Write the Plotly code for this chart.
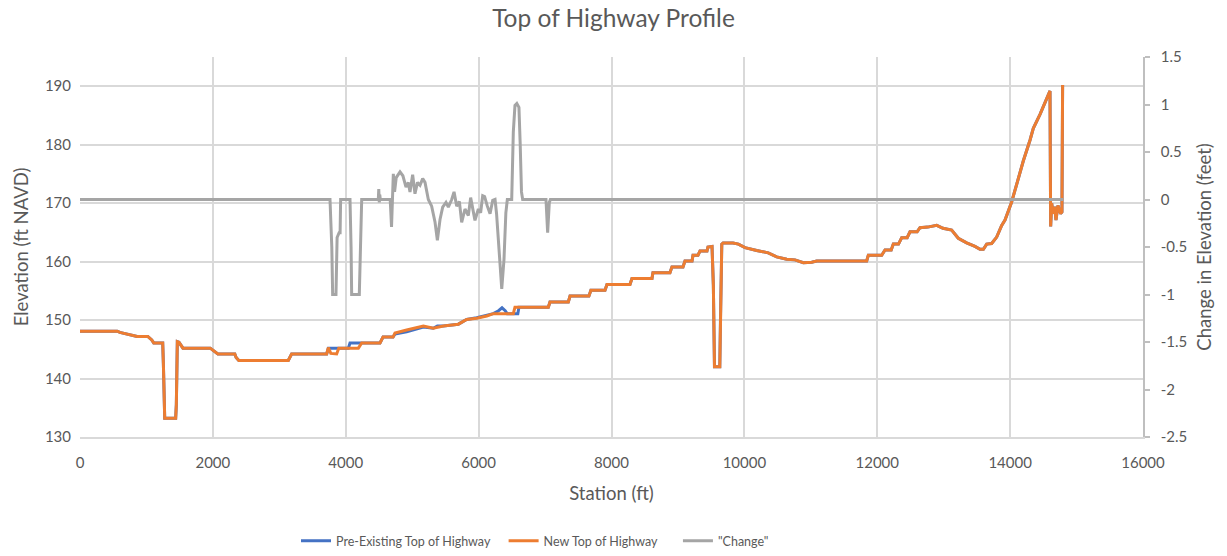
import plotly.graph_objects as go

# ---- New Top of Highway (orange) ----
station_new = [0, 560, 600, 680, 800, 860, 1020, 1080, 1110, 1245, 1255, 1275, 1290, 1440, 1450, 1455, 1465, 1490, 1505, 1550,
               1960, 1990, 2030, 2075, 2330, 2350, 2390, 3135, 3185, 3713, 3738, 3775, 3863, 3895, 4190, 4240, 4516, 4561,
               4712, 4741, 4917, 5168, 5318, 5469, 5695, 5820, 5971, 6122, 6221, 6522, 6547, 7049, 7074, 7350, 7376, 7660,
               7690, 7902, 7932, 8278, 8308, 8609, 8624, 8880, 8910, 9076, 9106, 9212, 9227, 9302, 9332, 9437, 9452, 9513,
               9533, 9550, 9630, 9640, 9660, 9680, 9830, 9910, 10010, 10185, 10360, 10486, 10637, 10762, 10887, 11013, 11089,
               11841, 11866, 12067, 12117, 12210, 12242, 12320, 12368, 12450, 12493, 12600, 12643, 12760, 12895, 12990, 13120,
               13220, 13346, 13471, 13547, 13597, 13647, 13722, 13798, 13873, 13923, 14023, 14110, 14198, 14300, 14349, 14450,
               14500, 14585, 14600, 14610, 14625, 14650, 14670, 14690, 14720, 14760, 14780, 14790]
elev_new = [148.1, 148.1, 147.9, 147.7, 147.4, 147.2, 147.2, 146.6, 146.1, 146.1, 142.5, 133.2, 133.2, 133.2, 135.5, 141.0, 146.3, 146.2, 145.9, 145.2,
            145.2, 144.9, 144.6, 144.2, 144.2, 143.6, 143.1, 143.1, 144.2, 144.2, 145.3, 144.3, 144.2, 145.2, 145.2, 146.1, 146.1, 147.1,
            147.1, 147.8, 148.3, 149.0, 148.6, 149.0, 149.3, 150.1, 150.3, 150.7, 151.1, 151.1, 152.2, 152.2, 153.1, 153.1, 154.1, 154.1,
            155.1, 155.1, 156.1, 156.1, 157.1, 157.1, 158.1, 158.1, 159.1, 159.1, 160.1, 160.1, 161.1, 161.1, 161.8, 161.8, 162.5, 162.6,
            156.0, 142.0, 142.0, 150.0, 163.0, 163.2, 163.2, 163.0, 162.4, 161.9, 161.5, 160.8, 160.4, 160.3, 159.8, 159.9, 160.1,
            160.1, 161.1, 161.1, 162.0, 162.0, 163.0, 163.0, 164.1, 164.1, 165.1, 165.1, 165.8, 165.9, 166.2, 165.7, 165.4,
            164.0, 163.2, 162.6, 162.1, 162.1, 163.0, 163.1, 164.2, 166.2, 167.1, 170.2, 173.8, 177.2, 180.8, 182.8, 185.2,
            186.5, 189.0, 189.2, 166.0, 170.0, 168.2, 169.4, 167.1, 169.6, 168.2, 168.5, 190.2]

# ---- Pre-Existing Top of Highway (blue) ----
station_old = [0, 560, 600, 680, 800, 860, 1020, 1080, 1110, 1245, 1255, 1275, 1290, 1440, 1450, 1455, 1465, 1490, 1505, 1550,
               1960, 1990, 2030, 2075, 2330, 2350, 2390, 3135, 3185, 3713, 3738, 4040, 4064, 4516, 4561,
               4712, 4741, 4917, 5168, 5318, 5379, 5469, 5695, 5820, 5971, 6122, 6221, 6300, 6352, 6400, 6430, 6590, 6607,
               7049, 7074, 7350, 7376, 7660, 7690, 7902, 7932, 8278, 8308, 8609, 8624, 8880, 8910, 9076, 9106, 9212, 9227,
               9302, 9332, 9437, 9452, 9513, 9533, 9550, 9630, 9640, 9660, 9680, 9830, 9910, 10010, 10185, 10360, 10486,
               10637, 10762, 10887, 11013, 11089, 11841, 11866, 12067, 12117, 12210, 12242, 12320, 12368, 12450, 12493, 12600,
               12643, 12760, 12895, 12990, 13120, 13220, 13346, 13471, 13547, 13597, 13647, 13722, 13798, 13873, 13923, 14023,
               14110, 14198, 14300, 14349, 14450, 14500, 14585, 14600, 14610, 14625, 14650, 14670, 14690, 14720, 14760, 14780, 14790]
elev_old = [148.1, 148.1, 147.9, 147.7, 147.4, 147.2, 147.2, 146.6, 146.1, 146.1, 142.5, 133.2, 133.2, 133.2, 135.5, 141.0, 146.3, 146.2, 145.9, 145.2,
            145.2, 144.9, 144.6, 144.2, 144.2, 143.6, 143.1, 143.1, 144.2, 144.2, 145.2, 145.2, 146.1, 146.1, 147.1,
            147.1, 147.6, 148.0, 148.8, 148.6, 149.0, 149.0, 149.3, 150.1, 150.4, 150.8, 151.1, 151.6, 152.1, 151.6, 151.1, 151.1, 152.2,
            152.2, 153.1, 153.1, 154.1, 154.1, 155.1, 155.1, 156.1, 156.1, 157.1, 157.1, 158.1, 158.1, 159.1, 159.1, 160.1, 160.1, 161.1,
            161.1, 161.8, 161.8, 162.5, 162.6, 156.0, 142.0, 142.0, 150.0, 163.0, 163.2, 163.2, 163.0, 162.4, 161.9, 161.5, 160.8,
            160.4, 160.3, 159.8, 159.9, 160.1, 160.1, 161.1, 161.1, 162.0, 162.0, 163.0, 163.0, 164.1, 164.1, 165.1, 165.1,
            165.8, 165.9, 166.2, 165.7, 165.4, 164.0, 163.2, 162.6, 162.1, 162.1, 163.0, 163.1, 164.2, 166.2, 167.1, 170.2,
            173.8, 177.2, 180.8, 182.8, 185.2, 186.5, 189.0, 189.2, 166.0, 170.0, 168.2, 169.4, 167.1, 169.6, 168.2, 168.5, 190.2]

# ---- "Change" (grey, right axis) ----
station_chg = [0, 3763, 3790, 3803, 3853, 3870, 3900, 3915, 3923, 4064, 4080, 4089, 4204, 4225, 4240, 4490, 4497, 4505, 4512, 4520,
               4669, 4689, 4700, 4716, 4735, 4760, 4817, 4860, 4907, 4942, 4967, 5007, 5042, 5080, 5118, 5158, 5193, 5243,
               5293, 5344, 5379, 5419, 5459, 5509, 5544, 5595, 5630, 5670, 5710, 5745, 5795, 5845, 5880, 5910, 5945, 5996,
               6030, 6061, 6090, 6131, 6172, 6212, 6247, 6270, 6312, 6348, 6382, 6410, 6432, 6498, 6522, 6547, 6575, 6607,
               6625, 6645, 6663, 7014, 7039, 7064, 7080, 14800]
change = [0, 0, -0.5, -1.0, -1.0, -0.4, -0.35, -0.35, 0, 0, -0.5, -1.0, -1.0, -0.5, 0, 0, 0.11, -0.03, 0.05, 0,
          0, -0.29, 0.1, 0.27, 0.08, 0.23, 0.29, 0.25, 0.13, 0.18, 0.08, 0.26, 0.06, 0.18, 0.15, 0.22, 0.18, 0.0,
          -0.07, -0.24, -0.43, -0.21, -0.08, -0.03, -0.08, 0.0, 0.08, -0.07, -0.02, -0.24, -0.10, -0.17, 0.02, -0.08, -0.22, -0.10,
          -0.14, 0.04, 0.03, -0.07, -0.15, -0.01, 0.0, -0.15, -0.56, -0.94, -0.63, -0.14, 0.0, 0.0, 0.71, 0.99, 1.01, 0.97,
          0.60, 0.08, 0.0, 0.0, -0.35, -0.03, 0, 0]

x_ticks = [0, 2000, 4000, 6000, 8000, 10000, 12000, 14000, 16000]
y_ticks = [130, 140, 150, 160, 170, 180, 190]
y2_ticks = [-2.5, -2, -1.5, -1, -0.5, 0, 0.5, 1, 1.5]
y2_labels = ["-2.5", "-2", "-1.5", "-1", "-0.5", "0", "0.5", "1", "1.5"]

FONT = "Lato, Carlito, Calibri, sans-serif"
TXT = "#595959"
GRID = "#d9d9d9"

fig = go.Figure()
fig.add_trace(go.Scatter(x=station_old, y=elev_old, mode="lines", name="Pre-Existing Top of Highway",
                         line=dict(color="#4472C4", width=3), legend="legend"))
fig.add_trace(go.Scatter(x=station_new, y=elev_new, mode="lines", name="New Top of Highway",
                         line=dict(color="#ED7D31", width=3), legend="legend2"))
fig.add_trace(go.Scatter(x=station_chg, y=change, mode="lines", name='"Change"', yaxis="y2",
                         line=dict(color="#A5A5A5", width=3), legend="legend3"))

leg_common = dict(orientation="h", xanchor="left", y=-0.274, yanchor="middle",
                  font=dict(family=FONT, size=12.5, color=TXT), bgcolor="rgba(0,0,0,0)")

fig.update_layout(
    width=1227, height=556,
    margin=dict(l=80, r=84, t=57, b=119, autoexpand=False),
    paper_bgcolor="white", plot_bgcolor="white",
    font=dict(family=FONT, color=TXT, size=15),
    title=dict(text="Top of Highway Profile", x=0.5, xanchor="center", y=0.9676, yanchor="middle",
               yref="container", font=dict(family=FONT, size=24.5, color=TXT), automargin=False, pad=dict(t=0, b=0)),
    showlegend=True,
    legend=dict(x=0.2032, **leg_common),
    legend2=dict(x=0.3985, **leg_common),
    legend3=dict(x=0.5625, **leg_common),
    xaxis=dict(range=[0, 16000], tickvals=x_ticks, ticktext=[str(v) for v in x_ticks], automargin=False,
               showgrid=True, gridcolor=GRID, gridwidth=1.5, zeroline=False,
               showline=True, linecolor=GRID, linewidth=1.5, ticks="", ticklabelstandoff=11,
               title=dict(text="Station (ft)", font=dict(size=18.5, color=TXT), standoff=17),
               tickfont=dict(size=15, color=TXT)),
    yaxis=dict(range=[130, 195], tickvals=y_ticks, ticktext=[str(v) for v in y_ticks], automargin=False,
               showgrid=True, gridcolor=GRID, gridwidth=1.5, zeroline=False, showline=False, ticks="",
               ticklabelstandoff=8,
               title=dict(text="Elevation (ft NAVD)", font=dict(size=18.5, color=TXT), standoff=11),
               tickfont=dict(size=15, color=TXT)),
    yaxis2=dict(range=[-2.5, 1.5], tickvals=y2_ticks, ticktext=y2_labels, overlaying="y", side="right",
                automargin=False,
                showgrid=False, zeroline=False, showline=True, linecolor="#bfbfbf", linewidth=1.5,
                ticks="outside", ticklen=5, tickcolor="#bfbfbf", tickwidth=1.5, ticklabelstandoff=8,
                title=dict(text="Change in Elevation (feet)", font=dict(size=18.5, color=TXT), standoff=12),
                tickfont=dict(size=15, color=TXT)),
)

fig.write_html("out.html", config={"displayModeBar": False},
               post_script="document.body.style.margin='0';document.body.style.overflow='hidden';")
